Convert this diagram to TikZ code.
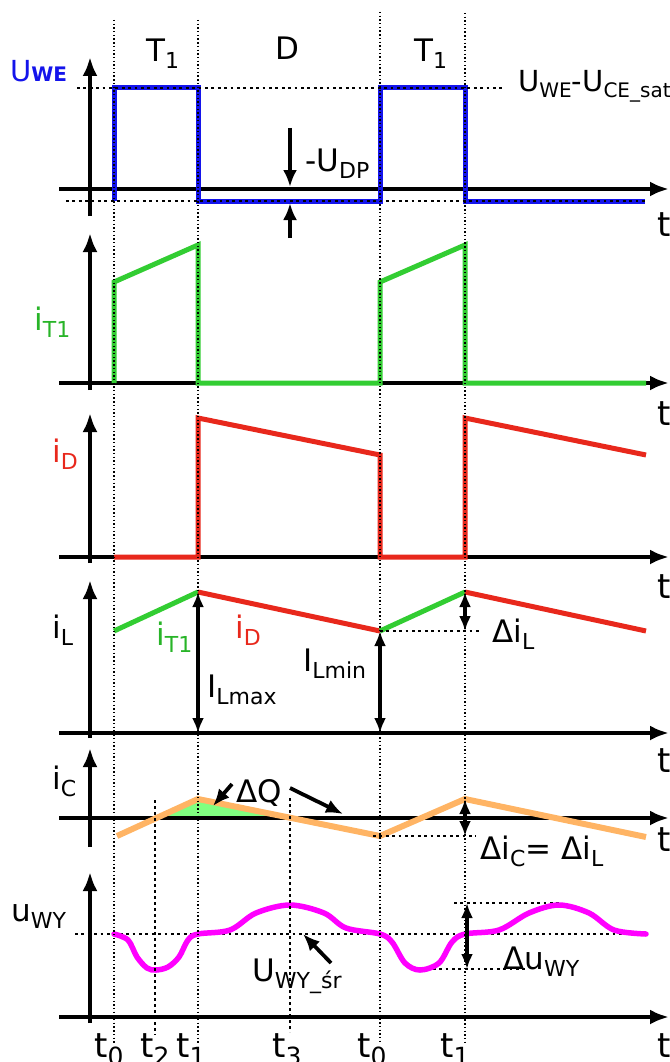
\documentclass[tikz,border=0pt]{standalone}
\usepackage{fontspec}
\setmainfont{DejaVu Sans}
\usetikzlibrary{arrows.meta}
\definecolor{cblue}{RGB}{20,20,235}
\definecolor{cgreen}{RGB}{50,205,50}
\definecolor{cgreenlbl}{RGB}{40,180,40}
\definecolor{cred}{RGB}{232,40,28}
\definecolor{corange}{RGB}{255,180,100}
\definecolor{cmag}{RGB}{255,0,255}
\definecolor{cfill}{RGB}{128,255,128}
\newcommand\sbs[1]{\raisebox{-7pt}{\fontsize{22}{22}\selectfont #1}}
\newcommand\sbss[1]{\raisebox{-6pt}{\fontsize{20}{20}\selectfont #1}}
\newcommand\sbt[1]{\raisebox{-8pt}{\fontsize{25}{25}\selectfont #1}}
\begin{document}
\begin{tikzpicture}[x=1pt,y=-1pt,
  lbl/.style={inner sep=0pt,anchor=base west,font=\fontsize{31}{32}\selectfont},
  tlbl/.style={inner sep=0pt,anchor=base west,font=\fontsize{34}{36}\selectfont},
  axis/.style={line width=4.5pt,-{Latex[length=19pt,width=15pt]}},
  vdot/.style={line width=1.4pt,dash pattern=on 1.4pt off 2.3pt},
  vdotb/.style={line width=2.6pt,dash pattern=on 2.6pt off 3.4pt},
  hdot/.style={line width=2.8pt,dash pattern=on 2.8pt off 3.6pt},
  dimarr/.style={line width=3.2pt,{Latex[length=15pt,width=12pt]}-{Latex[length=15pt,width=12pt]}},
  onearr/.style={line width=3.8pt,-{Latex[length=17pt,width=14pt]}},
  sig/.style={line width=5pt,line join=miter},
]
\useasboundingbox (0,0) rectangle (669,1062);

% ---------- axes ----------
\foreach \ax/\yb/\yt/\name in {189/216/57/a, 383/390/233/b, 557/563/413/c, 733/738/580/d, 818/847/748/e, 1017/1023/872/f}{
  \draw[axis] (59,\ax) coordinate (hx\name) -- (669,\ax) coordinate (hxe\name);
  \draw[axis] (90,\yb) coordinate (vy\name) -- (90,\yt) coordinate (vye\name);
}

% ---------- panel 1: U_WE ----------
\draw[sig,cblue] (114,201) -- (114,88) -- (198,88) -- (198,201) -- (380,201) -- (380,88) -- (465,88) -- (465,201) -- (645,201);
\draw[hdot] (77,88) coordinate (hiA) -- (503,88) coordinate (hiB);
\draw[hdot] (66,201) coordinate (loA) -- (645,201) coordinate (loB);
\coordinate (udpT) at (290,128);
\coordinate (udpM) at (290,187);
\coordinate (udpB) at (290,238);
\coordinate (udpL) at (290,203);
\draw[onearr] (udpT) -- (udpM);
\draw[onearr] (udpB) -- (udpL);

% ---------- panel 2: i_T1 ----------
\draw[sig,cgreen] (114,383) -- (114,282) -- (198,245) -- (198,383) -- (380,383) -- (380,282) -- (465,245) -- (465,383) -- (646,383);

% ---------- panel 3: i_D ----------
\draw[sig,cred] (114,557) -- (198,557) -- (198,418) -- (380,455) -- (380,557) -- (465,557) -- (465,418) -- (646,455);

% ---------- panel 4: i_L ----------
\coordinate (L0) at (114,631);
\coordinate (L1) at (198,592);
\coordinate (L2) at (380,631);
\coordinate (L3) at (465,592);
\coordinate (L4) at (646,631);
\draw[sig,cgreen] (L0) -- (L1);
\draw[sig,cred] (L1) -- (L2);
\draw[sig,cgreen] (L2) -- (L3);
\draw[sig,cred] (L3) -- (L4);
\coordinate (LmaxB) at (198,733);
\coordinate (LminB) at (380,733);
\coordinate (dLe) at (482,631);
\coordinate (dLb) at (465,631);
\draw[hdot] (L2) -- (dLe);
\draw[dimarr] (L1) -- (LmaxB);
\draw[dimarr] (L2) -- (LminB);
\draw[dimarr] (L3) -- (dLb);

% ---------- panel 5: i_C ----------
\coordinate (C0) at (117,836);
\coordinate (C1) at (198,799);
\coordinate (C2) at (380,836);
\coordinate (C3) at (465,799);
\coordinate (C4) at (646,837);
\fill[cfill] (156,818) -- (199,800) -- (291,818) -- cycle;
\draw[line width=4.5pt] (59,818) -- (300,818);
\draw[line width=6pt,line join=miter,corange] (C0) -- (C1) -- (C2) -- (C3) -- (C4);
\coordinate (dCe) at (476,836);
\coordinate (dCs) at (373,836);
\coordinate (dCb) at (465,836);
\draw[hdot] (dCs) -- (dCe);
\draw[dimarr] (C3) -- (dCb);
\coordinate (dQa) at (232,784);
\coordinate (dQat) at (213,806);
\coordinate (dQb) at (290,788);
\coordinate (dQbt) at (343,814);
\draw[onearr] (dQa) -- (dQat);
\draw[onearr] (dQb) -- (dQbt);

% ---------- panel 6: u_WY ----------
\draw[hdot] (75,934) -- (646,934);
\draw[hdot] (454,903) coordinate (uTa) -- (559,903) coordinate (uTb);
\draw[hdot] (420,969) coordinate (uBa) -- (525,969) coordinate (uBb);
\draw[line width=5.5pt,cmag,line cap=round] plot[smooth,tension=0.55] coordinates {
 (114,934) (128,940) (137,957) (147,968) (156,970) (168,967) (179,957) (188,940) (198,934)
 (230,930) (256,913) (290,905) (324,913) (346,928) (380,934) (392,942) (405,963) (420,970)
 (439,963) (452,942) (465,934) (499,930) (529,913) (559,905) (589,913) (614,930) (646,934)};
\coordinate (duT) at (467,903);
\coordinate (duB) at (467,969);
\draw[dimarr] (duT) -- (duB);
\coordinate (usrA) at (331,963);
\coordinate (usrT) at (303,934);
\draw[onearr] (usrA) -- (usrT);

% ---------- vertical dotted time lines ----------
\draw[vdot] (114,20) coordinate (vt0a) -- (114,1043);
\draw[vdot] (198,20) coordinate (vt1a) -- (198,1043);
\draw[vdot] (380,12) coordinate (vt0b) -- (380,1043);
\draw[vdot] (465,13) coordinate (vt1b) -- (465,1043);
\draw[vdotb] (155,800) coordinate (vt2) -- (155,1035);
\draw[vdotb] (290,798) coordinate (vt3) -- (290,1032);

% ---------- labels ----------
\node[inner sep=0pt,anchor=base west,text=cblue] (uwe) at (10,82) {\fontsize{29}{30}\selectfont U\fontsize{20}{20}\selectfont\bfseries WE};
\node[lbl] (T1a) at (146,62) {T\sbs{1}};
\node[lbl] (Dl) at (275,60) {D};
\node[lbl] (T1b) at (414,62) {T\sbs{1}};
\node[inner sep=0pt,anchor=base west,font=\fontsize{29}{30}\selectfont] (usat) at (518,92) {U\sbss{WE}-U\sbss{CE\_sat}};
\node[lbl] (udp) at (305,171) {-U\sbs{DP}};
\node[lbl,text=cgreenlbl] (it1) at (34,330) {i\sbs{T1}};
\node[lbl,text=cred] (id) at (52,462) {i\sbs{D}};
\node[lbl] (il) at (52,638) {i\sbs{L}};
\node[lbl,text=cgreenlbl] (it1b) at (156,645) {i\sbs{T1}};
\node[lbl,text=cred] (idb) at (235,638) {i\sbs{D}};
\node[lbl] (ilmax) at (207,697) {I\sbs{Lmax}};
\node[lbl] (ilmin) at (303,671) {I\sbs{Lmin}};
\node[lbl] (dil) at (492,642) {Δi\sbs{L}};
\node[lbl] (ic) at (52,789) {i\sbs{C}};
\node[lbl] (dq) at (236,802) {ΔQ};
\node[lbl] (dic) at (480,859) {Δi\sbs{C}= Δi\sbs{L}};
\node[lbl] (uwy) at (11,921) {u\sbs{WY}};
\node[lbl] (duwy) at (503,969) {Δu\sbs{WY}};
\node[lbl] (uwysr) at (252,981) {U\sbs{WY\_śr}};

% right t labels
\node[tlbl] (ta) at (657,236) {t};
\node[tlbl] (tb) at (657,425) {t};
\node[tlbl] (tc) at (657,598) {t};
\node[tlbl] (td) at (657,772) {t};
\node[tlbl] (te) at (657,851) {t};
\node[tlbl] (tf) at (657,1057) {t};

% bottom t labels
\node[tlbl] (bt0) at (94,1057) {t\sbt{0}};
\node[tlbl] (bt2) at (140,1057) {t\sbt{2}};
\node[tlbl] (bt1) at (176,1057) {t\sbt{1}};
\node[tlbl] (bt3) at (272,1057) {t\sbt{3}};
\node[tlbl] (bt0b) at (357,1057) {t\sbt{0}};
\node[tlbl] (bt1b) at (440,1057) {t\sbt{1}};
\end{tikzpicture}
\end{document}
